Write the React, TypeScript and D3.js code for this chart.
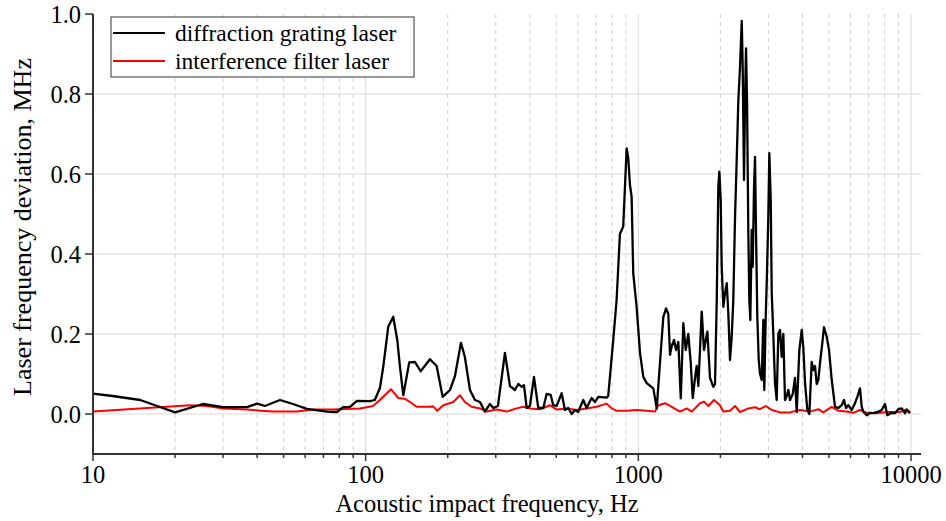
import React from 'react';
import * as d3 from 'd3';

const W = 946;
const H = 521;

// diffraction grating laser (black)
const diffractionHz = [
  10, 11.8, 14.9, 17.2, 20, 25.3, 30, 36.7, 40, 42.7, 48.5, 54.1, 60.9, 72.1, 78.5, 82.6, 87.6, 92.9, 103.7, 108,
  112.8, 116, 121, 126.2, 130.6, 133.6, 137.4, 144.5, 151.6, 159.1, 172.1, 182.1, 191.6, 203.8, 212.6, 223.6, 231,
  241.3, 251.7, 262.5, 273.8, 285.6, 293.8, 305.5, 324.2, 338.2, 352.8, 362.8, 373.4, 380.7, 389.5, 400.4, 414.2,
  429.6, 448.1, 461.1, 476.9, 487.5, 501.6, 523.4, 538.1, 553.3, 569.4, 585.3, 601.8, 628.2, 646.2, 674.1, 693.3,
  712.9, 765.1, 775.4, 809.1, 832.4, 855.9, 880.1, 906, 918.3, 931.6, 945, 957.9, 985.7,
  1014.5, 1043, 1073.5, 1135, 1168, 1201, 1235, 1264, 1288, 1307, 1326, 1352, 1375, 1402, 1431, 1462, 1492, 1525,
  1556, 1583, 1614, 1637, 1660, 1708, 1741, 1791, 1832, 1884, 1911, 1939, 1965, 1982, 2005, 2022, 2050, 2079, 2110,
  2138, 2169, 2200, 2230, 2263, 2295, 2327, 2360, 2395, 2414, 2441, 2462, 2483, 2504, 2532, 2553, 2575, 2605, 2627,
  2657, 2679, 2702, 2731, 2764, 2795, 2835, 2874, 2897, 2932, 2957, 2997, 3023, 3059, 3085, 3126, 3171, 3217, 3262,
  3308, 3356, 3402, 3451, 3501, 3549, 3600, 3684, 3755, 3810, 3895, 3975, 4029, 4087, 4167, 4238, 4324, 4383, 4446,
  4510, 4573, 4637, 4728, 4797, 4908, 5004, 5120, 5265, 5412, 5570, 5679, 5776, 5890, 6061, 6232, 6355, 6501, 6595,
  6685, 6879, 7073, 7273, 7588, 7806, 8028, 8186, 8496, 8736, 8983, 9245, 9506, 9643, 9916,
];
const diffractionMHz = [
  0.051, 0.045, 0.035, 0.02, 0.004, 0.025, 0.017, 0.017, 0.026, 0.02, 0.035, 0.025, 0.013, 0.006, 0.005, 0.017, 0.018, 0.033, 0.032, 0.035,
  0.065, 0.118, 0.218, 0.243, 0.185, 0.118, 0.047, 0.129, 0.13, 0.107, 0.137, 0.12, 0.043, 0.06, 0.095, 0.178, 0.143,
  0.06, 0.035, 0.03, 0.006, 0.025, 0.015, 0.02, 0.153, 0.07, 0.06, 0.075, 0.068, 0.072, 0.015, 0.02, 0.093,
  0.015, 0.015, 0.05, 0.048, 0.022, 0.02, 0.052, 0.01, 0.015, 0.0, 0.01, 0.005, 0.035, 0.015, 0.04, 0.03,
  0.043, 0.041, 0.045, 0.185, 0.285, 0.45, 0.468, 0.664, 0.64, 0.573, 0.543, 0.352, 0.268,
  0.152, 0.093, 0.077, 0.064, 0.014, 0.13, 0.243, 0.264, 0.25, 0.148, 0.17, 0.185, 0.16, 0.18, 0.039, 0.227, 0.16, 0.2,
  0.13, 0.04, 0.09, 0.12, 0.07, 0.256, 0.16, 0.206, 0.09, 0.068, 0.075, 0.285, 0.568, 0.606, 0.535, 0.368, 0.268, 0.302, 0.327,
  0.252, 0.135, 0.193, 0.285, 0.493, 0.635, 0.785, 0.868, 0.983, 0.868, 0.585, 0.785, 0.914, 0.785, 0.452, 0.285, 0.235, 0.46, 0.368,
  0.568, 0.643, 0.452, 0.243, 0.135, 0.1, 0.085, 0.235, 0.06, 0.243, 0.327, 0.493, 0.652, 0.535, 0.302, 0.2, 0.077, 0.035, 0.2,
  0.21, 0.143, 0.2, 0.035, 0.045, 0.06, 0.035, 0.05, 0.09, 0.005, 0.16, 0.21, 0.165, 0.077, 0.01, 0.0, 0.13, 0.11, 0.12,
  0.075, 0.085, 0.127, 0.177, 0.217, 0.193, 0.16, 0.085, 0.018, 0.015, 0.022, 0.035, 0.015, 0.022, 0.01, 0.027, 0.043, 0.064, 0.018,
  0.006, -0.003, 0.003, 0.002, 0.006, 0.01, 0.025, -0.003, 0.003, 0.002, 0.012, 0.014, 0.002, 0.01, 0.002,
];

// interference filter laser (red)
const interferenceHz = [
  10, 22.7, 26.2, 30, 36.7, 45.7, 56, 64.1, 75.9, 95.3, 101, 106.4, 112.8, 123.8, 131.7, 139.3, 145.4, 153.8, 167.4,
  177, 183, 192.6, 209.6, 221.7, 231, 244.7, 262.5, 277.8, 302.3, 328.8, 357.9, 378.5, 400.4, 435.7, 474.1, 501.6,
  545.8, 593.8, 646.2, 703.2, 765.1, 798.1, 832.4, 906, 985.7, 1073.5, 1151, 1184, 1253, 1326, 1422, 1505, 1570,
  1684, 1741, 1806, 1895, 1993, 2050, 2169, 2263, 2360, 2532, 2679, 2795, 2932, 3085, 3308, 3600, 3917, 4263, 4573,
  4769, 5120, 5412, 5810, 6142, 6501, 6879, 7485, 8145, 9113, 9643, 9916,
];
const interferenceMHz = [
  0.006, 0.022, 0.02, 0.014, 0.011, 0.006, 0.006, 0.011, 0.011, 0.014, 0.017, 0.02, 0.035, 0.062, 0.04, 0.038, 0.03, 0.018, 0.018,
  0.019, 0.008, 0.022, 0.03, 0.047, 0.03, 0.018, 0.014, 0.006, 0.011, 0.006, 0.014, 0.018, 0.014, 0.012, 0.022, 0.011,
  0.014, 0.01, 0.014, 0.018, 0.026, 0.014, 0.008, 0.008, 0.01, 0.008, 0.006, 0.022, 0.027, 0.018, 0.006, 0.014, 0.006,
  0.027, 0.031, 0.02, 0.035, 0.022, 0.006, 0.008, 0.02, 0.005, 0.014, 0.017, 0.012, 0.02, 0.01, 0.004, 0.004, 0.01, 0.006, 0.012,
  0.004, 0.018, 0.008, 0.006, 0.003, 0.01, 0.003, 0.002, 0.005, 0.005, 0.012, 0.005,
];

const yTicks = [0, 0.2, 0.4, 0.6, 0.8, 1.0];
const xDecades = [10, 100, 1000, 10000];
const xMinorSteps = [2, 3, 4, 5, 6, 7, 8, 9];

const xTitle = 'Acoustic impact frequency, Hz';
const yTitle = 'Laser frequency deviation, MHz';
const legendLabels = ['diffraction grating laser', 'interference filter laser'];
const seriesColors = ['#000000', '#ff0000'];

const FONT = '"Liberation Serif", "Times New Roman", serif';

export default function App() {
  const left = 93;
  const right = 921;
  const top = 14;
  const bottom = 454;

  const x = d3.scaleLog().domain([10, 10000]).range([left, 911]);
  const y = d3.scaleLinear().domain([-0.1, 1.0]).range([bottom, top]);

  const minors: number[] = [];
  xDecades.slice(0, 3).forEach((d) => xMinorSteps.forEach((m) => minors.push(d * m)));

  const line = d3
    .line<[number, number]>()
    .x((d) => x(d[0]))
    .y((d) => y(d[1]));

  const black = diffractionHz.map((f, i) => [f, diffractionMHz[i]] as [number, number]);
  const red = interferenceHz.map((f, i) => [f, interferenceMHz[i]] as [number, number]);

  return (
    <svg
      width={W}
      height={H}
      style={{ position: 'absolute', left: 0, top: 0, background: '#fff' }}
      fontFamily={FONT}
    >
      {/* grid */}
      {yTicks.slice(0, 5).map((t) => (
        <line key={'gy' + t} x1={left} x2={right} y1={y(t)} y2={y(t)} stroke="#d9d9d9" strokeWidth={1} />
      ))}
      {minors.map((m) => (
        <line key={'gm' + m} x1={x(m)} x2={x(m)} y1={top} y2={bottom} stroke="#d0d0d0" strokeWidth={1} strokeDasharray="4,4" />
      ))}
      {xDecades.slice(1).map((d) => (
        <line key={'gd' + d} x1={x(d)} x2={x(d)} y1={top} y2={bottom} stroke="#d9d9d9" strokeWidth={1} />
      ))}

      {/* series */}
      <path d={line(red) || ''} fill="none" stroke={seriesColors[1]} strokeWidth={2} strokeLinejoin="round" />
      <path d={line(black) || ''} fill="none" stroke={seriesColors[0]} strokeWidth={2.3} strokeLinejoin="round" />

      {/* axes */}
      <line x1={left} x2={left} y1={top} y2={bottom} stroke="#333" strokeWidth={2} />
      <line x1={left - 1} x2={right} y1={bottom} y2={bottom} stroke="#333" strokeWidth={2} />
      {yTicks.map((t) => (
        <g key={'yt' + t}>
          <line x1={left - 8} x2={left} y1={y(t)} y2={y(t)} stroke="#333" strokeWidth={1.5} />
          <text x={left - 12} y={y(t)} dy="0.35em" textAnchor="end" fontSize={24.5} fill="#000">
            {d3.format('.1f')(t)}
          </text>
        </g>
      ))}
      {minors.map((m) => (
        <line key={'xm' + m} x1={x(m)} x2={x(m)} y1={bottom} y2={bottom + 4} stroke="#333" strokeWidth={1.5} />
      ))}
      {xDecades.map((d) => (
        <g key={'xt' + d}>
          <line x1={x(d)} x2={x(d)} y1={bottom} y2={bottom + 7} stroke="#333" strokeWidth={1.5} />
          <text x={x(d)} y={bottom + 29} textAnchor="middle" fontSize={24.5} fill="#000">
            {d}
          </text>
        </g>
      ))}

      <text x={487} y={512} textAnchor="middle" fontSize={24.5} fill="#000">
        {xTitle}
      </text>
      <text transform={`translate(31,${227}) rotate(-90)`} textAnchor="middle" fontSize={26} fill="#000">
        {yTitle}
      </text>

      {/* legend */}
      <rect x={111} y={17} width={303} height={60} fill="#fff" stroke="#333" strokeWidth={1} />
      {legendLabels.map((lab, i) => (
        <g key={lab}>
          <line x1={113} x2={165} y1={33 + i * 28} y2={33 + i * 28} stroke={seriesColors[i]} strokeWidth={2} />
          <text x={175} y={33 + i * 28} dy="0.33em" fontSize={23.5} fill="#000">
            {lab}
          </text>
        </g>
      ))}
    </svg>
  );
}
